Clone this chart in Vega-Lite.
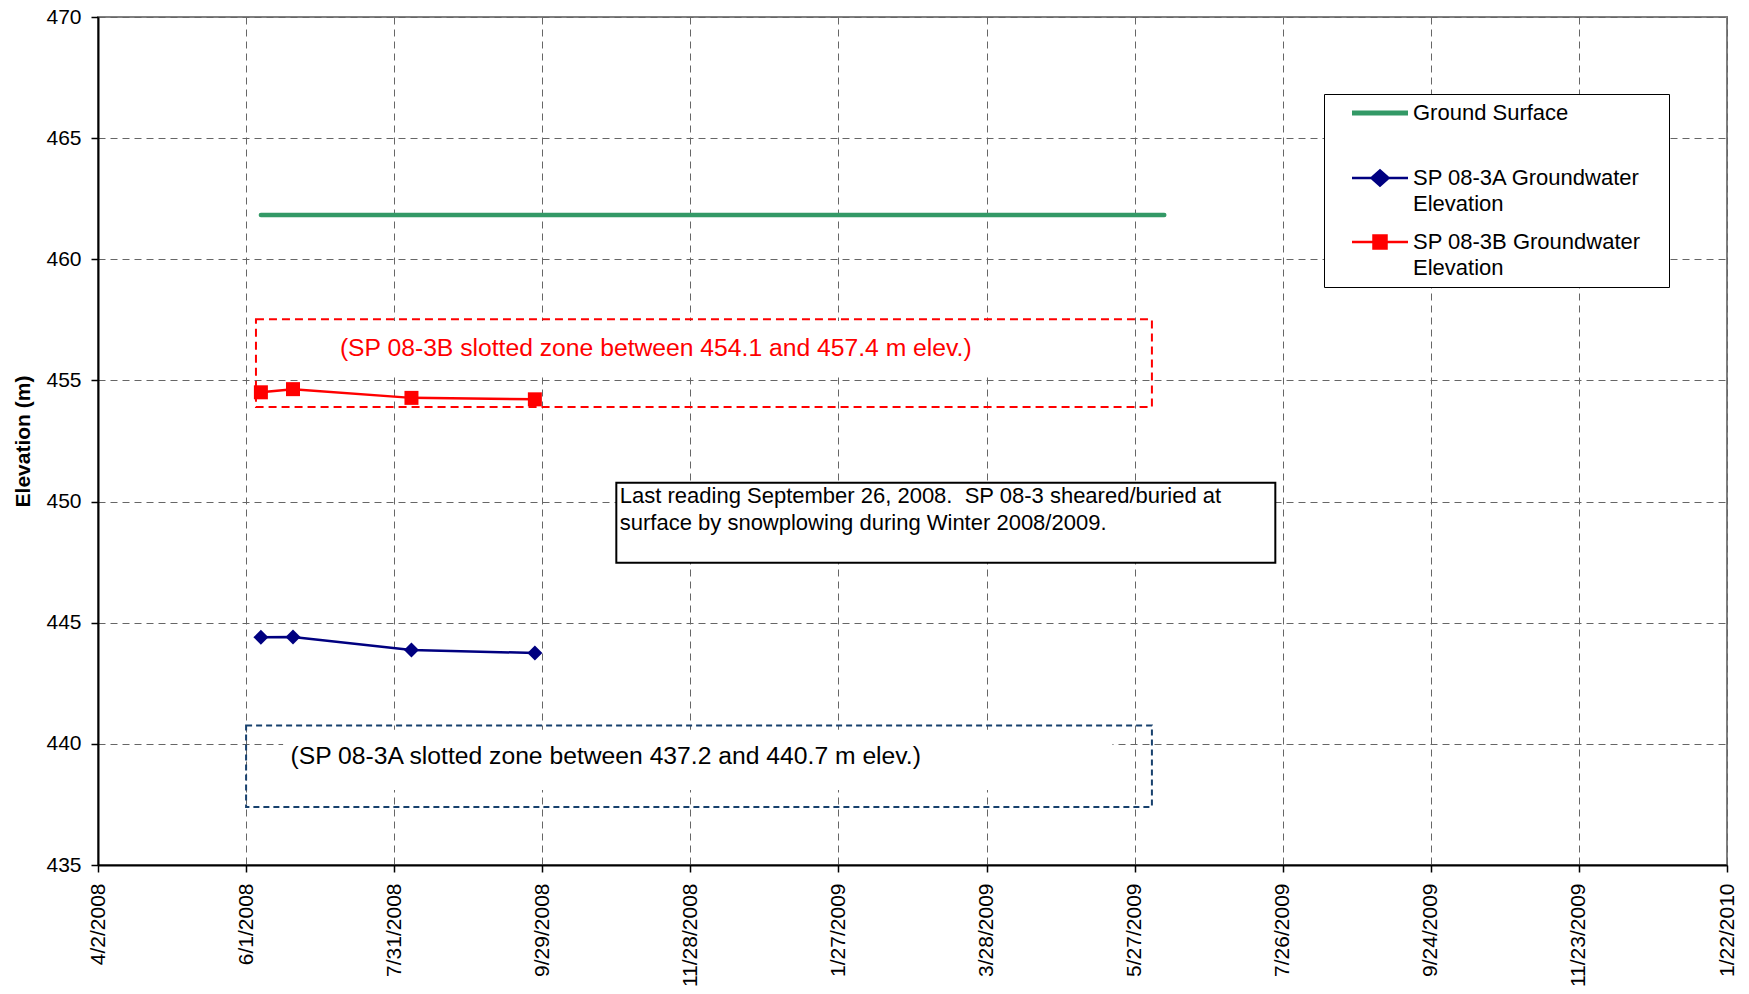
{
  "$schema": "https://vega.github.io/schema/vega-lite/v6.json",
  "width": 1629,
  "height": 848,
  "autosize": "none",
  "padding": {"left": 98, "top": 17, "right": 22, "bottom": 129},
  "background": "white",
  "config": {
    "font": "Liberation Sans",
    "view": {"stroke": "#808080", "strokeWidth": 2},
    "axis": {
      "labelFont": "Liberation Sans", "labelFontSize": 21, "labelColor": "#000000",
      "domainColor": "#000000", "domainWidth": 2,
      "tickColor": "#000000", "tickWidth": 1.5, "tickSize": 7,
      "gridColor": "#666666", "gridDash": [7, 5], "gridWidth": 1, "gridOpacity": 1
    }
  },
  "datasets": {
    "series": [
      {"series": "Ground Surface", "date": "2008-06-07", "value": 461.83},
      {"series": "Ground Surface", "date": "2009-06-08", "value": 461.83},
      {"series": "SP 08-3A Groundwater Elevation", "date": "2008-06-07", "value": 444.40},
      {"series": "SP 08-3A Groundwater Elevation", "date": "2008-06-20", "value": 444.41},
      {"series": "SP 08-3A Groundwater Elevation", "date": "2008-08-07", "value": 443.87},
      {"series": "SP 08-3A Groundwater Elevation", "date": "2008-09-26", "value": 443.75},
      {"series": "SP 08-3B Groundwater Elevation", "date": "2008-06-07", "value": 454.51},
      {"series": "SP 08-3B Groundwater Elevation", "date": "2008-06-20", "value": 454.64},
      {"series": "SP 08-3B Groundwater Elevation", "date": "2008-08-07", "value": 454.28},
      {"series": "SP 08-3B Groundwater Elevation", "date": "2008-09-26", "value": 454.22}
    ],
    "boxes": [
      {"name": "3B", "date": "2008-06-05", "date2": "2009-06-03", "value": 453.9, "value2": 457.52},
      {"name": "3A", "date": "2008-06-01", "date2": "2009-06-03", "value": 437.39, "value2": 440.76}
    ],
    "note": [
      {"date": "2008-10-29", "date2": "2009-07-23", "value": 447.47, "value2": 450.78}
    ],
    "textbg": [
      {"name": "3B", "date": "2008-06-10", "date2": "2009-05-15", "value": 455.25, "value2": 457.45},
      {"name": "3A", "date": "2008-06-16", "date2": "2009-05-18", "value": 438.1, "value2": 440.58}
    ],
    "texts": [
      {"name": "3B", "date": "2008-07-09", "value": 456.3, "text": "(SP 08-3B slotted zone between 454.1 and 457.4 m elev.)"},
      {"name": "3A", "date": "2008-06-19", "value": 439.44, "text": "(SP 08-3A slotted zone between 437.2 and 440.7 m elev.)"},
      {"name": "note", "date": "2008-10-30", "value": 450.25, "text": "Last reading September 26, 2008.\u00a0 SP 08-3 sheared/buried at"},
      {"name": "note", "date": "2008-10-30", "value": 449.11, "text": "surface by snowplowing during Winter 2008/2009."}
    ]
  },
  "encoding": {
    "x": {
      "field": "date", "type": "temporal",
      "scale": {"type": "utc", "domain": [{"year": 2008, "month": 4, "date": 2, "utc": true}, {"year": 2010, "month": 1, "date": 22, "utc": true}]},
      "axis": {
        "title": null, "grid": true, "labelAngle": -90, "labelPadding": 11,
        "labelOverlap": false, "labelFlush": false, "labelBound": false,
        "labelExpr": "utcFormat(datum.value, '%-m/%-d/%Y')",
        "values": [
          {"year": 2008, "month": 4, "date": 2, "utc": true},
          {"year": 2008, "month": 6, "date": 1, "utc": true},
          {"year": 2008, "month": 7, "date": 31, "utc": true},
          {"year": 2008, "month": 9, "date": 29, "utc": true},
          {"year": 2008, "month": 11, "date": 28, "utc": true},
          {"year": 2009, "month": 1, "date": 27, "utc": true},
          {"year": 2009, "month": 3, "date": 28, "utc": true},
          {"year": 2009, "month": 5, "date": 27, "utc": true},
          {"year": 2009, "month": 7, "date": 26, "utc": true},
          {"year": 2009, "month": 9, "date": 24, "utc": true},
          {"year": 2009, "month": 11, "date": 23, "utc": true},
          {"year": 2010, "month": 1, "date": 22, "utc": true}
        ]
      }
    },
    "y": {
      "field": "value", "type": "quantitative",
      "scale": {"domain": [435, 470], "nice": false, "zero": false},
      "axis": {
        "title": "Elevation (m)", "titleFont": "Liberation Sans", "titleFontSize": 21, "titleFontWeight": "bold",
        "titleColor": "#000000", "titlePadding": 12,
        "values": [435, 440, 445, 450, 455, 460, 465, 470],
        "labelPadding": 10, "grid": true
      }
    }
  },
  "layer": [
    {
      "data": {"name": "textbg"},
      "mark": {"type": "rect", "fill": "white", "strokeWidth": 0},
      "encoding": {"x2": {"field": "date2"}, "y2": {"field": "value2"}}
    },
    {
      "data": {"name": "note"},
      "mark": {"type": "rect", "fill": "white", "stroke": "black", "strokeWidth": 2},
      "encoding": {"x2": {"field": "date2"}, "y2": {"field": "value2"}}
    },
    {
      "data": {"name": "boxes"},
      "transform": [{"filter": "datum.name === '3B'"}],
      "mark": {"type": "rect", "fill": null, "fillOpacity": 0, "stroke": "#FF0000", "strokeWidth": 2, "strokeDash": [8, 5]},
      "encoding": {"x2": {"field": "date2"}, "y2": {"field": "value2"}}
    },
    {
      "data": {"name": "boxes"},
      "transform": [{"filter": "datum.name === '3A'"}],
      "mark": {"type": "rect", "fill": null, "fillOpacity": 0, "stroke": "#17406D", "strokeWidth": 2, "strokeDash": [6, 4]},
      "encoding": {"x2": {"field": "date2"}, "y2": {"field": "value2"}}
    },
    {
      "data": {"name": "series"},
      "transform": [{"filter": "datum.series === 'Ground Surface'"}],
      "mark": {"type": "line", "strokeWidth": 4.5, "strokeCap": "round"},
      "encoding": {
        "color": {
          "field": "series", "type": "nominal",
          "scale": {
            "domain": ["Ground Surface", "SP 08-3A Groundwater Elevation", "SP 08-3B Groundwater Elevation"],
            "range": ["#339966", "#000080", "#FF0000"]
          },
          "legend": {
            "orient": "none", "legendX": 1226, "legendY": 77, "title": null, "direction": "vertical",
            "labelFont": "Liberation Sans", "labelFontSize": 22, "labelColor": "#000000", "labelLimit": 400,
            "labelBaseline": "top",
            "labelExpr": "datum.label === 'Ground Surface' ? ['Ground Surface', ' '] : [replace(datum.label, ' Elevation', ''), 'Elevation']",
            "symbolSize": 400, "labelOffset": 59, "padding": 8, "rowPadding": 15,
            "strokeColor": "#000000", "fillColor": "#ffffff",
            "encode": {
              "symbols": {
                "update": {
                  "shape": {"signal": "datum.value === 'Ground Surface' ? 'M 0.9 0 L 6.5 0 M 30.8 0 L 30.8 0' : datum.value === 'SP 08-3A Groundwater Elevation' ? 'M 0.9 0 L 6.5 0 M 3.7 -0.75 L 4.55 0 L 3.7 0.75 L 2.85 0 Z' : 'M 0.9 0 L 6.5 0 M 3.05 -0.65 L 4.35 -0.65 L 4.35 0.65 L 3.05 0.65 Z'"},
                  "strokeWidth": {"signal": "datum.value === 'Ground Surface' ? 5 : 2.5"},
                  "fill": {"signal": "datum.value === 'SP 08-3A Groundwater Elevation' ? '#000080' : datum.value === 'SP 08-3B Groundwater Elevation' ? '#FF0000' : 'transparent'"},
                  "fillOpacity": {"value": 1},
                  "opacity": {"value": 1}
                }
              },
              "labels": {
                "update": {"dy": {"value": -10}, "lineHeight": {"value": 26}}
              }
            }
          }
        }
      }
    },
    {
      "data": {"name": "series"},
      "transform": [{"filter": "datum.series !== 'Ground Surface'"}],
      "mark": {"type": "line", "strokeWidth": 2.5},
      "encoding": {"color": {"field": "series", "type": "nominal"}}
    },
    {
      "data": {"name": "series"},
      "transform": [{"filter": "datum.series === 'SP 08-3A Groundwater Elevation'"}],
      "mark": {"type": "point", "shape": "diamond", "filled": true, "size": 225, "color": "#000080", "opacity": 1}
    },
    {
      "data": {"name": "series"},
      "transform": [{"filter": "datum.series === 'SP 08-3B Groundwater Elevation'"}],
      "mark": {"type": "point", "shape": "square", "filled": true, "size": 196, "color": "#FF0000", "opacity": 1}
    },
    {
      "data": {"name": "texts"},
      "transform": [{"filter": "datum.name === '3B'"}],
      "mark": {"type": "text", "align": "left", "baseline": "middle", "fontSize": 24.7, "font": "Liberation Sans", "color": "#FF0000"},
      "encoding": {"text": {"field": "text"}}
    },
    {
      "data": {"name": "texts"},
      "transform": [{"filter": "datum.name === '3A'"}],
      "mark": {"type": "text", "align": "left", "baseline": "middle", "fontSize": 24.7, "font": "Liberation Sans", "color": "#000000"},
      "encoding": {"text": {"field": "text"}}
    },
    {
      "data": {"name": "texts"},
      "transform": [{"filter": "datum.name === 'note'"}],
      "mark": {"type": "text", "align": "left", "baseline": "middle", "fontSize": 22, "font": "Liberation Sans", "color": "#000000", "dx": 1},
      "encoding": {"text": {"field": "text"}}
    }
  ]
}
